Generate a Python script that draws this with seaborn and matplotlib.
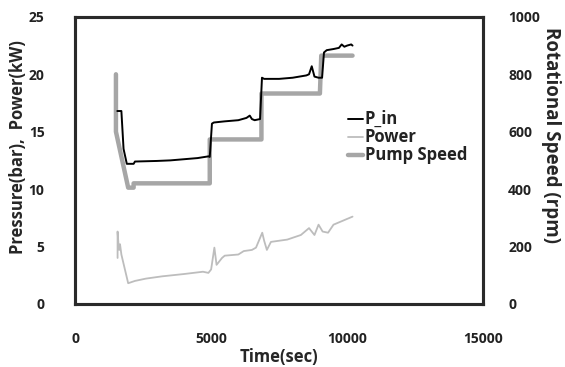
import matplotlib
matplotlib.use("Agg")
import matplotlib.pyplot as plt
import seaborn as sns
import pandas as pd
from matplotlib.lines import Line2D

# ---- data ----
t_pin = [1550, 1700, 1780, 1900, 2150, 2200, 3000, 3500, 4000, 4500, 4900, 4950,
         5030, 5100, 5500, 6000, 6300, 6420, 6500, 6600, 6800, 6870, 6950, 7500,
         8000, 8500, 8600, 8700, 8800, 8950, 9080, 9150, 9250, 9500, 9700, 9800,
         9900, 10000, 10150, 10200]
p_in = [16.8, 16.8, 13.5, 12.2, 12.2, 12.4, 12.45, 12.5, 12.6, 12.7, 12.85, 12.8,
        15.7, 15.8, 15.9, 16.0, 16.2, 16.4, 16.1, 16.0, 16.1, 19.7, 19.6, 19.6,
        19.7, 19.9, 20.0, 20.7, 19.8, 19.7, 19.7, 21.9, 22.1, 22.2, 22.3, 22.6,
        22.4, 22.5, 22.6, 22.5]

t_power = [1560, 1560, 1600, 1620, 1650, 1700, 1950, 2200, 2600, 3200, 4000, 4700,
           4900, 5000, 5120, 5200, 5400, 5500, 6000, 6200, 6500, 6650, 6880, 6950,
           7050, 7200, 7800, 8300, 8600, 8800, 8950, 9100, 9300, 9500, 9800, 10000,
           10200]
power = [4.0, 6.3, 5.0, 4.7, 5.2, 4.3, 1.8, 2.0, 2.2, 2.4, 2.6, 2.8,
         2.7, 3.0, 4.9, 3.4, 4.0, 4.2, 4.3, 4.6, 4.7, 4.9, 6.2, 5.5,
         4.7, 5.4, 5.6, 6.0, 6.6, 6.0, 6.9, 6.3, 6.2, 6.9, 7.2, 7.4,
         7.6]

t_speed = [1500, 1500, 1950, 2150, 2150, 4950, 4950, 6850, 6850, 9000, 9050, 10200]
speed = [800, 600, 405, 405, 420, 420, 573, 573, 733, 733, 865, 865]

x_ticks = [0, 5000, 10000, 15000]
y_ticks = [0, 5, 10, 15, 20, 25]
y2_ticks = [0, 200, 400, 600, 800, 1000]

df_pin = pd.DataFrame({"t": t_pin, "v": p_in})
df_pow = pd.DataFrame({"t": t_power, "v": power})
df_spd = pd.DataFrame({"t": t_speed, "v": speed})

sns.set_style("white")
plt.rcParams["font.family"] = ["Open Sans", "DejaVu Sans"]

fig = plt.figure(figsize=(5.65, 3.67), dpi=100)
ax = fig.add_axes([0.133, 0.172, 0.722, 0.782])
ax2 = ax.twinx()

sns.lineplot(data=df_spd, x="t", y="v", ax=ax2, color="#a6a6a6", lw=3.2,
             estimator=None, sort=False)
sns.lineplot(data=df_pow, x="t", y="v", ax=ax, color="#bdbdbd", lw=1.3,
             estimator=None, sort=False)
sns.lineplot(data=df_pin, x="t", y="v", ax=ax, color="black", lw=1.4,
             estimator=None, sort=False)

ax.set_zorder(ax2.get_zorder() + 1)
ax.patch.set_visible(False)

ax.set_xlim(0, 15000)
ax.set_ylim(0, 25)
ax2.set_ylim(0, 1000)
ax.set_xticks(x_ticks)
ax.set_yticks(y_ticks)
ax2.set_yticks(y2_ticks)

tick_kw = dict(labelsize=10, colors="#222222", length=0)
ax.tick_params(axis="x", pad=20, **tick_kw)
ax.tick_params(axis="y", pad=22, **tick_kw)
ax2.tick_params(axis="y", pad=18, **tick_kw)
for lab in ax.get_xticklabels() + ax.get_yticklabels() + ax2.get_yticklabels():
    lab.set_fontweight("bold")

ax.set_xlabel("Time(sec)", fontsize=12, fontweight="bold", labelpad=2)
ax.set_ylabel("Pressure(bar),  Power(kW)", fontsize=12, fontweight="bold", va="center")
ax.yaxis.set_label_coords(-0.14, 0.545)
ax2.set_ylabel("Rotational Speed (rpm)", fontsize=13.5, fontweight="bold",
               rotation=270, va="center")
ax2.yaxis.set_label_coords(1.167, 0.59)

for a in (ax, ax2):
    for s in a.spines.values():
        s.set_color("#2a2a2a")
        s.set_linewidth(2.2)
        s.set_visible(True)

handles = [Line2D([], [], color="black", lw=1.4),
           Line2D([], [], color="#bdbdbd", lw=1.3),
           Line2D([], [], color="#a6a6a6", lw=3.2)]
leg = ax.legend(handles, ["P_in", "Power", "Pump Speed"], loc="upper left",
                bbox_to_anchor=(0.655, 0.695), frameon=False, handlelength=1.1,
                handletextpad=0.1, labelspacing=0.0, borderaxespad=0)
for t in leg.get_texts():
    t.set_fontsize(12)
    t.set_fontweight("bold")
    t.set_color("#222222")

fig.savefig("out.png", dpi=100)
